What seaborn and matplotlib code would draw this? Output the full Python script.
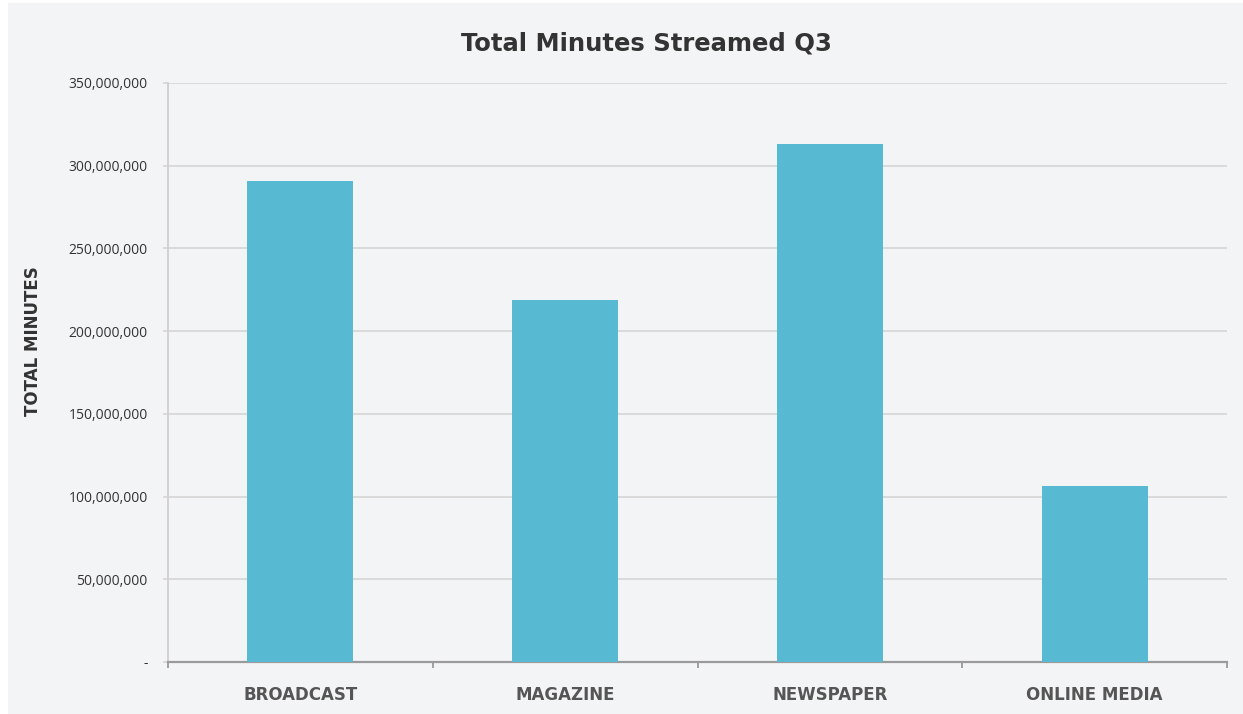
import matplotlib
matplotlib.use("Agg")
import matplotlib.pyplot as plt
import matplotlib.ticker as mticker
from matplotlib.patches import Rectangle
import seaborn as sns
import pandas as pd

categories = ["BROADCAST", "MAGAZINE", "NEWSPAPER", "ONLINE MEDIA"]
minutes = [291_000_000, 219_000_000, 313_000_000, 106_500_000]
title = "Total Minutes Streamed Q3"
ylabel = "TOTAL MINUTES"

df = pd.DataFrame({"category": categories, "minutes": minutes})

sns.set_style("white")
plt.rcParams["font.family"] = ["Open Sans", "DejaVu Sans"]
bold_font = ["DejaVu Sans"]

bg = "#f3f4f5"
fig = plt.figure(figsize=(12.43, 7.14), dpi=100, facecolor="white")
fig.patches.append(Rectangle((8 / 1243, 0), 1 - 8 / 1243, 1 - 3 / 714,
                             transform=fig.transFigure, facecolor=bg,
                             edgecolor="none", zorder=-10))

ax = fig.add_axes([168 / 1243, 1 - 662 / 714, (1227 - 168) / 1243, (662 - 83) / 714])
ax.set_facecolor(bg)

sns.barplot(data=df, x="category", y="minutes", color="#57b9d2", width=0.4,
            saturation=1, linewidth=0, edgecolor="none", ax=ax, zorder=3)

ax.set_xlim(-0.5, len(categories) - 0.5)
ax.set_ylim(0, 350_000_000)
ax.yaxis.set_major_locator(mticker.MultipleLocator(50_000_000))
ax.yaxis.set_major_formatter(mticker.FuncFormatter(
    lambda v, p: "-" if v == 0 else f"{int(v):,}"))

ax.grid(axis="y", color="#d8d8d8", linewidth=1.3, zorder=0)
ax.set_axisbelow(True)
for s in ["top", "right"]:
    ax.spines[s].set_visible(False)
ax.spines["left"].set_color("#cfcfcf")
ax.spines["left"].set_linewidth(1.3)
ax.spines["bottom"].set_color("#9a9a9a")
ax.spines["bottom"].set_linewidth(1.6)

ax.tick_params(axis="y", length=3.6, width=1.3, color="#d8d8d8", pad=11,
               labelsize=10, labelcolor="#333333", left=True)
ax.tick_params(axis="x", which="major", length=0, pad=17,
               labelsize=12, labelcolor="#555555")
ax.set_xticks([i + 0.5 for i in range(-1, len(categories))], minor=True)
ax.tick_params(axis="x", which="minor", length=4, width=1.3, color="#9a9a9a",
               bottom=True, direction="out")
for lab in ax.get_xticklabels():
    lab.set_fontweight("bold")
    lab.set_family(bold_font)

ax.set_xlabel("")
ax.set_ylabel(ylabel, fontsize=12, fontweight="bold", color="#333333",
              family=bold_font)
ax.yaxis.set_label_coords(-(168 - 42) / (1227 - 168), (662 - 341) / (662 - 83))

fig.text(646 / 1243, 1 - 43 / 714, title, ha="center", va="center",
         fontsize=17.5, fontweight="bold", color="#333333", family=bold_font)

fig.savefig("out.png", dpi=100, facecolor=fig.get_facecolor())
